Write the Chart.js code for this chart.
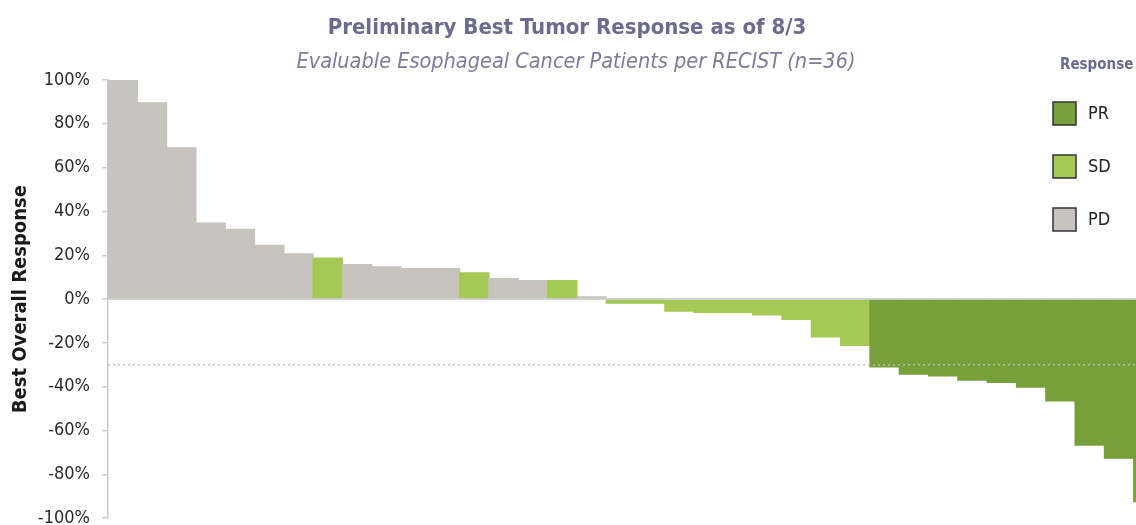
<!DOCTYPE html>
<html>
<head>
<meta charset="utf-8">
<script src="https://cdn.jsdelivr.net/npm/chart.js@4.4.1/dist/chart.umd.min.js"></script>
<style>
html,body{margin:0;padding:0;background:#fff;overflow:hidden}
#wrap{position:relative;width:1136px;height:525px;overflow:hidden}
#box{position:absolute;left:0;top:0;width:1163px;height:541px}
.ttl{position:absolute;left:0;text-align:center;color:#6b6b8e;font-family:"Liberation Sans Narrow","DejaVu Sans Condensed",sans-serif;white-space:nowrap}
#t1{top:14px;width:1134px;font-size:22px;font-weight:bold}
#t2{top:48px;width:1152px;font-size:21.5px;font-style:italic;color:#7c7c98}
</style>
</head>
<body>
<div id="wrap">
<div id="box"><canvas id="waterfall"></canvas></div>
<div class="ttl" id="t1">Preliminary Best Tumor Response as of 8/3</div>
<div class="ttl" id="t2">Evaluable Esophageal Cancer Patients per RECIST (n=36)</div>
</div>
<script>
const patients = ['1','2','3','4','5','6','7','8','9','10','11','12','13','14','15','16','17','18',
'19','20','21','22','23','24','25','26','27','28','29','30','31','32','33','34','35','36']

const bestResponse = [100, 89.6, 69, 34.7, 31.8, 24.5, 20.6, 18.7, 15.7, 14.7, 13.9, 13.9,
12, 9.3, 8.5, 8.5, 1, -1.8, -1.8, -5.5, -6.1, -6.1, -7.2, -9.3,
-17.3, -21.1, -31, -34.2, -35, -37, -38, -40.2, -46.5, -66.7, -72.6, -92.5]

const responseType = ['PD','PD','PD','PD','PD','PD','PD','SD','PD','PD','PD','PD',
'SD','PD','PD','SD','PD','SD','SD','SD','SD','SD','SD','SD',
'SD','SD','PR','PR','PR','PR','PR','PR','PR','PR','PR','PR']

const legendLabels = ['PR','SD','PD']
const yTicks = [-100,-80,-60,-40,-20,0,20,40,60,80,100]
const threshold = -30

const colors = {PR:'#77a03a', SD:'#a5c955', PD:'#c6c2bc'}
const narrow = '"Liberation Sans Narrow","DejaVu Sans Condensed",sans-serif'

// zero line and the -30% dotted line, drawn over the bars
const refLines = {
id:'refLines',
afterDatasetsDraw(chart){
let ctx = chart.ctx
let area = chart.chartArea
let y = chart.scales.y
ctx.save()
ctx.strokeStyle = 'rgba(205,205,205,0.9)'
ctx.lineWidth = 2
ctx.beginPath()
ctx.moveTo(area.left, y.getPixelForValue(0))
ctx.lineTo(area.right, y.getPixelForValue(0))
ctx.stroke()
ctx.strokeStyle = 'rgba(190,190,190,0.9)'
ctx.lineWidth = 1.5
ctx.setLineDash([2,3])
ctx.beginPath()
ctx.moveTo(area.left, y.getPixelForValue(threshold))
ctx.lineTo(area.right, y.getPixelForValue(threshold))
ctx.stroke()
ctx.restore()
}
}

const responseLegend = {
id:'responseLegend',
afterDraw(chart){
let ctx = chart.ctx
ctx.save()
ctx.fillStyle = '#6b6b8e'
ctx.font = 'bold 15px '+narrow
ctx.textAlign = 'left'
ctx.textBaseline = 'middle'
ctx.fillText('Response', 1060, 65)
legendLabels.forEach((lab,i)=>{
let top = 102 + i*53
ctx.fillStyle = colors[lab]
ctx.fillRect(1053, top, 23, 23)
ctx.strokeStyle = '#333'
ctx.lineWidth = 1.5
ctx.strokeRect(1053, top, 23, 23)
ctx.fillStyle = '#222'
ctx.font = '18px '+narrow
ctx.fillText(lab, 1088, top+12)
})
ctx.restore()
}
}

new Chart(document.getElementById('waterfall'),{
type:'bar',
data:{
labels:patients,
datasets:[{
label:'Best Overall Response',
data:bestResponse,
backgroundColor:responseType.map(r=>colors[r]),
borderWidth:0,
inflateAmount:0.6,
barPercentage:1,
categoryPercentage:1
}]
},
options:{
responsive:true,
maintainAspectRatio:false,
animation:false,
layout:{padding:{top:80,bottom:0,left:0,right:0}},
plugins:{legend:{display:false},tooltip:{enabled:false}},
scales:{
x:{display:false},
y:{
min:-100,max:100,
afterBuildTicks(s){ s.ticks = yTicks.map(v=>({value:v})) },
afterFit(s){ s.width = 108 },
ticks:{callback:v=>v+'%',color:'#2a2a2a',padding:12,font:{family:narrow,size:18}},
grid:{drawOnChartArea:false,tickLength:6,color:'#cccccc',lineWidth:1.5},
border:{color:'#cccccc',width:1.5},
title:{display:true,text:'Best Overall Response',color:'#1a1a1a',
font:{family:narrow,size:20,weight:'bold'},padding:{top:9}}
}
}
},
plugins:[refLines,responseLegend]
})
</script>
</body>
</html>
